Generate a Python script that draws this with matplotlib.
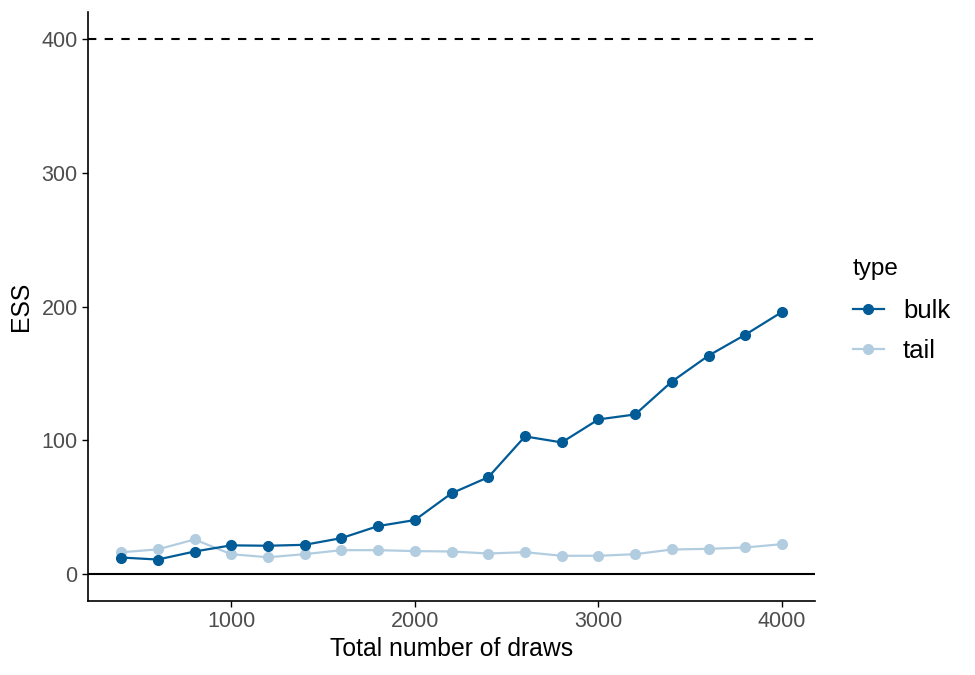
import matplotlib
matplotlib.use("Agg")
import matplotlib.pyplot as plt

# ESS vs total draws
draws = [400, 600, 800, 1000, 1200, 1400, 1600, 1800, 2000, 2200,
         2400, 2600, 2800, 3000, 3200, 3400, 3600, 3800, 4000]
ess_bulk = [12.5, 11, 17, 21.6, 21.3, 22, 27, 36, 40.5, 60.5,
            72.5, 103, 98.5, 115.7, 119.4, 144, 163.4, 179, 196]
ess_tail = [16.4, 18.6, 26, 15, 12.7, 15, 18, 18, 17.3, 17,
            15.5, 16.5, 13.8, 13.8, 15, 18.5, 19, 20, 22.5]
col_bulk = "#005b96"
col_tail = "#b3cde0"

plt.rcParams['font.family'] = ['Liberation Sans', 'DejaVu Sans']

fig = plt.figure(figsize=(9.75, 6.75), dpi=100)
ax = fig.add_axes([0.0903, 0.1096, 0.836 - 0.0903, 0.982 - 0.1096])

ax.axhline(0, color="black", lw=1.5, zorder=1)
ax.axhline(400, color="black", lw=1.5, ls=(0, (4, 4)), zorder=1)

ax.plot(draws, ess_tail, color=col_tail, lw=1.6, marker="o", ms=7, label="tail", zorder=2)
ax.plot(draws, ess_bulk, color=col_bulk, lw=1.6, marker="o", ms=7, label="bulk", zorder=3)

ax.set_xlim(220, 4180)
ax.set_ylim(-20, 420)
ax.set_xticks([1000, 2000, 3000, 4000])
ax.set_yticks([0, 100, 200, 300, 400])
ax.tick_params(labelsize=15.5, labelcolor="#4d4d4d", color="black", length=4, width=1)
for s in ["top", "right"]:
    ax.spines[s].set_visible(False)
for s in ["left", "bottom"]:
    ax.spines[s].set_linewidth(1.2)

ax.set_xlabel("Total number of draws", fontsize=17.8, labelpad=3)
ax.set_ylabel("ESS", fontsize=17.8, labelpad=6)

h, l = ax.get_legend_handles_labels()
leg = fig.legend(h[::-1], l[::-1], title="type", loc="upper left",
                 bbox_to_anchor=(0.859, 0.641), frameon=False,
                 fontsize=18.5, title_fontsize=17.5, handlelength=1.2,
                 handletextpad=0.75, labelspacing=0.6, borderaxespad=0.2)
leg._legend_box.align = "left"
leg._legend_box.sep = 14

fig.savefig("out.png", dpi=100)
